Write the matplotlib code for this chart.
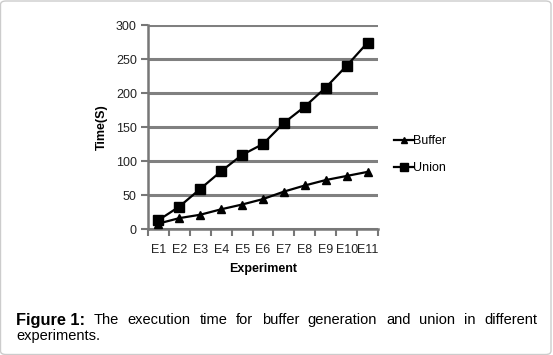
import matplotlib
matplotlib.use("Agg")
import matplotlib.pyplot as plt
from matplotlib.patches import FancyBboxPatch
from matplotlib.lines import Line2D

plt.rcParams['font.family'] = ['Liberation Sans', 'DejaVu Sans']

categories = ["E1", "E2", "E3", "E4", "E5", "E6", "E7", "E8", "E9", "E10", "E11"]
buffer_vals = [8, 16, 21, 29, 36, 44, 55, 64, 72, 78, 84]
union_vals = [13, 33, 59, 85, 109, 125, 156, 180, 208, 240, 274]
y_ticks = [0, 50, 100, 150, 200, 250, 300]

W, H = 553, 355
fig = plt.figure(figsize=(W / 100, H / 100), dpi=100)
fig.patch.set_facecolor("white")

ax = fig.add_axes([148 / W, 1 - 229 / H, 230 / W, 204 / H])
x = list(range(len(categories)))
ax.plot(x, buffer_vals, color="black", lw=1.6, marker="^", ms=6, label="Buffer", zorder=3, clip_on=False)
ax.plot(x, union_vals, color="black", lw=1.6, marker="s", ms=7.5, label="Union", zorder=3, clip_on=False)

ax.set_xlim(-0.5, len(categories) - 0.5)
ax.set_ylim(0, 300)
ax.set_yticks(y_ticks)
ax.set_yticklabels([str(v) for v in y_ticks], fontsize=9, color="#222222")
ax.set_xticks(x)
ax.set_xticklabels(categories, fontsize=9, color="#222222")
ax.set_xticks([i - 0.5 for i in range(len(categories) + 1)], minor=True)
ax.tick_params(axis="x", which="major", length=0, pad=11)
ax.tick_params(axis="x", which="minor", length=5, width=1.5, color="#777777", direction="out")
ax.tick_params(axis="y", length=5, width=1.5, color="#777777", pad=3)

for s in ["top", "right"]:
    ax.spines[s].set_visible(False)
for s in ["left", "bottom"]:
    ax.spines[s].set_color("#777777")
    ax.spines[s].set_linewidth(1.8)
ax.yaxis.grid(True, color="#808080", lw=2.2)
ax.set_axisbelow(True)

ax.set_xlabel("Experiment", fontsize=9, fontweight="bold", labelpad=5)
ax.set_ylabel("Time(S)", fontsize=9, fontweight="bold", labelpad=6)

handles = [Line2D([], [], color="black", lw=1.6, marker="^", ms=5),
           Line2D([], [], color="black", lw=1.6, marker="s", ms=5.5)]
fig.legend(handles, ["Buffer", "Union"], loc="upper left",
           bbox_to_anchor=(383 / W, 1 - 124 / H), frameon=False, fontsize=9,
           handlelength=1.5, handletextpad=0.0, labelspacing=1.2)

# border
border = FancyBboxPatch((0.5 / W, 0.5 / H), 1 - 2.5 / W, 1 - 1.5 / H,
                        boxstyle="round,pad=0,rounding_size=0.01",
                        transform=fig.transFigure, fill=False, ec="#cccccc", lw=1)
fig.patches.append(border)

# justified caption
words = ["The", "execution", "time", "for", "buffer", "generation", "and", "union", "in", "different"]
fs = 10.5
x0, x1 = 16 / W, 537 / W
y1 = 1 - 320 / H
y2 = 1 - 336 / H
renderer = fig.canvas.get_renderer()
texts = []
t = fig.text(x0, y1, "Figure 1:", fontsize=11.8, fontweight="bold", va="center")
texts.append(t)
for w in words:
    texts.append(fig.text(0, y1, w, fontsize=fs, va="center"))
widths = [tt.get_window_extent(renderer).width / W for tt in texts]
gap = (x1 - x0 - sum(widths)) / (len(texts) - 1)
pos = x0
for tt, wd in zip(texts, widths):
    tt.set_x(pos)
    pos += wd + gap
fig.text(x0, y2, "experiments.", fontsize=fs, va="center")

fig.savefig("out.png", dpi=100)
